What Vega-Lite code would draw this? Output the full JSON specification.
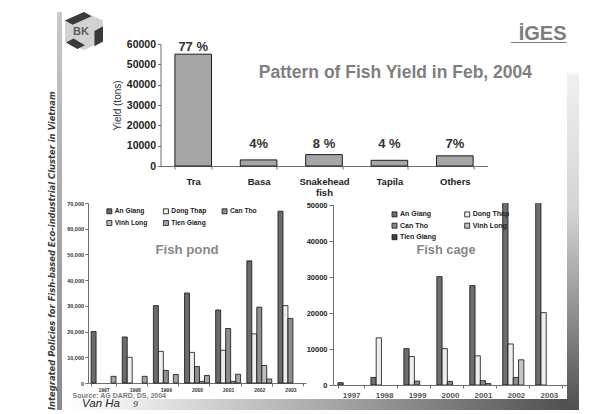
{
  "$schema": "https://vega.github.io/schema/vega-lite/v6.json",
  "background": "#ffffff",
  "padding": {"left": 47, "top": 12, "right": 0, "bottom": 0},
  "config": {
    "font": "Liberation Sans",
    "view": {"stroke": null},
    "axis": {"grid": false, "domainColor": "#6e6e6e", "tickColor": "#6e6e6e", "domainWidth": 1, "tickWidth": 1, "labelFontWeight": "bold", "labelOverlap": false},
    "legend": {"padding": 0}
  },
  "title": {
    "text": "Integrated Policies for Fish-based Eco-industrial Cluster in Vietnam",
    "orient": "left",
    "anchor": "start",
    "font": "DejaVu Sans",
    "fontSize": 8.4,
    "fontWeight": "bold",
    "fontStyle": "italic",
    "color": "#3a3a3a",
    "offset": 1
  },
  "spacing": 0,
  "hconcat": [
    {
      "spacing": 3,
      "hconcat": [
        {
          "width": 5,
          "height": 398,
          "data": {"values": [{}]},
          "mark": {"type": "rect", "fill": {"gradient": "linear", "x1": 0, "y1": 0, "x2": 0, "y2": 1, "stops": [{"offset": 0, "color": "#c9c9c9"}, {"offset": 1, "color": "#8a8a8a"}]}},
          "encoding": {}
        },
        {
          "spacing": -7,
          "vconcat": [
            {
              "spacing": 4,
              "vconcat": [
                {
                  "spacing": 8.5,
                  "hconcat": [
                    {
                      "width": 38,
                      "height": 38,
                      "data": {"values": [{"name": "BK"}]},
                      "layer": [
                        {"mark": {"type": "point", "shape": "M0,-1L1,-0.55L1,0.55L0,1L-1,0.55L-1,-0.55Z", "size": 1444, "filled": true, "fill": "#d2d2d2", "opacity": 1, "strokeWidth": 0}, "encoding": {}},
                        {"mark": {"type": "point", "shape": "M-1,-0.55L0,-1L0.4,-0.78L-0.6,-0.33Z M0.55,0L1,-0.25L1,0.55L0.55,0.8Z M-0.95,0.6L-0.55,0.4L0.05,0.75L-0.35,0.95Z", "size": 1444, "filled": true, "fill": "#3a3a3a", "opacity": 1, "strokeWidth": 0}, "encoding": {}},
                        {"mark": {"type": "text", "fontSize": 11, "fontWeight": "bold", "color": "#5a5a5a", "dx": -3, "dy": 1}, "encoding": {"text": {"field": "name"}}}
                      ]
                    },
                    {
                      "width": 327,
                      "height": 154,
                      "title": {
                        "text": "İGES\u2009",
                        "subtitle": "_____",
                        "anchor": "end",
                        "frame": "group",
                        "dx": 79,
                        "fontSize": 20,
                        "fontWeight": "bold",
                        "color": "#7d7d7d",
                        "subtitleFontSize": 20,
                        "subtitleFontWeight": "bold",
                        "subtitleColor": "#7d7d7d",
                        "subtitlePadding": -20,
                        "offset": -32
                      },
                      "data": {"values": [
                        {"fish": "Tra", "yield": 55000, "share": "77 %"},
                        {"fish": "Basa", "yield": 3000, "share": "4%"},
                        {"fish": "Snakehead fish", "yield": 5600, "share": "8 %"},
                        {"fish": "Tapila", "yield": 2800, "share": "4 %"},
                        {"fish": "Others", "yield": 5000, "share": "7%"}
                      ]},
                      "encoding": {
                        "x": {
                          "field": "fish",
                          "type": "nominal",
                          "sort": null,
                          "scale": {"domain": ["Tra", "Basa", "Snakehead fish", "Tapila", "Others"], "paddingInner": 0.44, "paddingOuter": 0.22},
                          "axis": {"title": null, "labelAngle": 0, "labelExpr": "split(datum.label, ' ')", "labelFontSize": 9.5, "labelColor": "#222222", "labelPadding": 7, "labelLineHeight": 11.5, "tickBand": "extent", "tickSize": 3}
                        }
                      },
                      "layer": [
                        {
                          "mark": {"type": "bar", "fill": "#a6a6a6", "stroke": "#1e1e1e", "strokeWidth": 1},
                          "encoding": {
                            "y": {
                              "field": "yield",
                              "type": "quantitative",
                              "scale": {"domain": [0, 60000], "range": [154, 32]},
                              "axis": {"title": "Yield (tons)", "titleFontWeight": "normal", "titleFontSize": 10, "titleColor": "#333333", "titlePadding": 4, "values": [0, 10000, 20000, 30000, 40000, 50000, 60000], "tickCount": 12, "labelOverlap": false, "format": "d", "labelFontSize": 10.5, "labelColor": "#222222", "tickSize": 3, "labelPadding": 2}
                            }
                          }
                        },
                        {
                          "transform": [{"filter": "datum.yield > 20000"}],
                          "mark": {"type": "text", "fontSize": 13, "fontWeight": "bold", "color": "#333333", "baseline": "alphabetic", "dy": -3},
                          "encoding": {"y": {"field": "yield", "type": "quantitative"}, "text": {"field": "share"}}
                        },
                        {
                          "transform": [{"filter": "datum.yield < 20000"}],
                          "mark": {"type": "text", "fontSize": 13, "fontWeight": "bold", "color": "#333333", "baseline": "middle"},
                          "encoding": {"y": {"datum": 10800, "type": "quantitative"}, "text": {"field": "share"}}
                        },
                        {
                          "data": {"values": [{"caption": "Pattern of Fish Yield in Feb, 2004"}]},
                          "mark": {"type": "text", "fontSize": 17.5, "fontWeight": "bold", "color": "#7f7f7f", "baseline": "middle", "dx": 6},
                          "encoding": {"x": {"datum": "Tapila"}, "y": {"datum": 45700, "type": "quantitative"}, "text": {"field": "caption"}}
                        }
                      ]
                    }
                  ]
                },
                {
                  "spacing": 0,
                  "resolve": {"scale": {"color": "independent", "xOffset": "independent"}, "legend": {"color": "independent"}},
                  "hconcat": [
                    {
                      "width": 241,
                      "height": 180,
                      "data": {"values": [
                        {"year": "1997", "province": "An Giang", "tons": 20000},
                        {"year": "1997", "province": "Tien Giang", "tons": 2600},
                        {"year": "1998", "province": "An Giang", "tons": 17900},
                        {"year": "1998", "province": "Dong Thap", "tons": 10000},
                        {"year": "1998", "province": "Tien Giang", "tons": 2600},
                        {"year": "1999", "province": "An Giang", "tons": 30100},
                        {"year": "1999", "province": "Dong Thap", "tons": 12300},
                        {"year": "1999", "province": "Can Tho", "tons": 4900},
                        {"year": "1999", "province": "Tien Giang", "tons": 3300},
                        {"year": "2000", "province": "An Giang", "tons": 35000},
                        {"year": "2000", "province": "Dong Thap", "tons": 11900},
                        {"year": "2000", "province": "Can Tho", "tons": 6400},
                        {"year": "2000", "province": "Vinh Long", "tons": 650},
                        {"year": "2000", "province": "Tien Giang", "tons": 2950},
                        {"year": "2001", "province": "An Giang", "tons": 28400},
                        {"year": "2001", "province": "Dong Thap", "tons": 12700},
                        {"year": "2001", "province": "Can Tho", "tons": 21200},
                        {"year": "2001", "province": "Vinh Long", "tons": 650},
                        {"year": "2001", "province": "Tien Giang", "tons": 3400},
                        {"year": "2002", "province": "An Giang", "tons": 47500},
                        {"year": "2002", "province": "Dong Thap", "tons": 19100},
                        {"year": "2002", "province": "Can Tho", "tons": 29500},
                        {"year": "2002", "province": "Vinh Long", "tons": 6800},
                        {"year": "2002", "province": "Tien Giang", "tons": 1550},
                        {"year": "2003", "province": "An Giang", "tons": 66800},
                        {"year": "2003", "province": "Dong Thap", "tons": 30100},
                        {"year": "2003", "province": "Can Tho", "tons": 25100}
                      ]},
                      "layer": [
                        {
                          "mark": {"type": "bar", "stroke": "#111111", "strokeWidth": 0.8},
                          "encoding": {
                            "x": {
                              "field": "year",
                              "type": "nominal",
                              "scale": {"range": [23, 241], "paddingInner": 0.2, "paddingOuter": 0.1},
                              "axis": {"title": "Source: AG DARD, DS, 2004", "titleAlign": "left", "titleBaseline": "middle", "titleX": 7, "titleY": 12, "titleFontSize": 7, "titleFontWeight": "bold", "titleColor": "#7a7a7a", "labelFontSize": 5, "labelAngle": 0, "labelPadding": 1.5, "labelColor": "#333333", "tickBand": "extent", "tickSize": 3}
                            },
                            "xOffset": {"field": "province", "type": "nominal", "scale": {"domain": ["An Giang", "Dong Thap", "Can Tho", "Vinh Long", "Tien Giang"]}},
                            "y": {
                              "field": "tons",
                              "type": "quantitative",
                              "scale": {"domain": [0, 70000]},
                              "axis": {"title": null, "offset": -23, "values": [0, 10000, 20000, 30000, 40000, 50000, 60000, 70000], "tickCount": 12, "labelOverlap": false, "format": ",d", "labelFontSize": 5.5, "labelColor": "#333333", "tickSize": 3, "labelPadding": 1.5}
                            },
                            "color": {
                              "field": "province",
                              "type": "nominal",
                              "scale": {"domain": ["An Giang", "Dong Thap", "Can Tho", "Vinh Long", "Tien Giang"], "range": ["#6b6b6b", "#eeeeee", "#8e8e8e", "#bcbcbc", "#a5a5a5"]},
                              "legend": {"orient": "none", "legendX": 41, "legendY": 4.7, "direction": "horizontal", "columns": 3, "title": null, "symbolType": "square", "symbolSize": 25, "symbolStrokeColor": "#111111", "symbolStrokeWidth": 0.8, "symbolOpacity": 1, "labelFontSize": 6.7, "labelFontWeight": "bold", "labelColor": "#222222", "labelOffset": 2, "columnPadding": 13.6, "rowPadding": 3}
                            }
                          }
                        },
                        {
                          "data": {"values": [{"caption": "Fish pond"}]},
                          "mark": {"type": "text", "fontSize": 13.2, "fontWeight": "bold", "color": "#888888", "baseline": "middle", "dx": -10},
                          "encoding": {"x": {"datum": "2000"}, "y": {"datum": 51700, "type": "quantitative"}, "text": {"field": "caption"}}
                        }
                      ]
                    },
                    {
                      "width": 234,
                      "height": 182,
                      "data": {"values": [
                        {"year": "1997", "province": "An Giang", "tons": 650},
                        {"year": "1998", "province": "An Giang", "tons": 2100},
                        {"year": "1998", "province": "Dong Thap", "tons": 13100},
                        {"year": "1999", "province": "An Giang", "tons": 10100},
                        {"year": "1999", "province": "Dong Thap", "tons": 7900},
                        {"year": "1999", "province": "Can Tho", "tons": 1100},
                        {"year": "2000", "province": "An Giang", "tons": 30100},
                        {"year": "2000", "province": "Dong Thap", "tons": 10100},
                        {"year": "2000", "province": "Can Tho", "tons": 1000},
                        {"year": "2001", "province": "An Giang", "tons": 27600},
                        {"year": "2001", "province": "Dong Thap", "tons": 8100},
                        {"year": "2001", "province": "Can Tho", "tons": 1200},
                        {"year": "2001", "province": "Vinh Long", "tons": 400},
                        {"year": "2002", "province": "An Giang", "tons": 62000},
                        {"year": "2002", "province": "Dong Thap", "tons": 11400},
                        {"year": "2002", "province": "Can Tho", "tons": 2100},
                        {"year": "2002", "province": "Vinh Long", "tons": 7000},
                        {"year": "2003", "province": "An Giang", "tons": 80000},
                        {"year": "2003", "province": "Dong Thap", "tons": 20100}
                      ]},
                      "layer": [
                        {
                          "mark": {"type": "bar", "stroke": "#111111", "strokeWidth": 0.8, "clip": true},
                          "encoding": {
                            "x": {
                              "field": "year",
                              "type": "nominal",
                              "scale": {"paddingInner": 0.2, "paddingOuter": 0.15},
                              "axis": {"title": null, "labelFontSize": 8, "labelAngle": 0, "labelPadding": 3, "labelColor": "#555555", "tickBand": "extent", "tickSize": 3}
                            },
                            "xOffset": {"field": "province", "type": "nominal", "scale": {"domain": ["An Giang", "Dong Thap", "Can Tho", "Vinh Long", "Tien Giang"]}},
                            "y": {
                              "field": "tons",
                              "type": "quantitative",
                              "scale": {"domain": [0, 50000], "range": [182, 2]},
                              "axis": {"title": null, "values": [0, 10000, 20000, 30000, 40000, 50000], "tickCount": 12, "labelOverlap": false, "format": "d", "labelFontSize": 7.5, "labelColor": "#222222", "tickSize": 4, "labelPadding": 2}
                            },
                            "color": {
                              "field": "province",
                              "type": "nominal",
                              "scale": {"domain": ["An Giang", "Dong Thap", "Can Tho", "Vinh Long", "Tien Giang"], "range": ["#6e6e6e", "#eeeeee", "#8a8a8a", "#c4c4c4", "#3f3f3f"]},
                              "legend": {"orient": "none", "legendX": 58, "legendY": 7.7, "direction": "horizontal", "columns": 2, "title": null, "symbolType": "square", "symbolSize": 25, "symbolStrokeColor": "#111111", "symbolStrokeWidth": 0.8, "symbolOpacity": 1, "labelFontSize": 7, "labelFontWeight": "bold", "labelColor": "#222222", "labelOffset": 2, "columnPadding": 25.7, "rowPadding": 2.5}
                            }
                          }
                        },
                        {
                          "data": {"values": [{"caption": "Fish cage"}]},
                          "mark": {"type": "text", "fontSize": 12.8, "fontWeight": "bold", "color": "#888888", "baseline": "middle", "dx": -4},
                          "encoding": {"x": {"datum": "2000"}, "y": {"datum": 37500, "type": "quantitative"}, "text": {"field": "caption"}}
                        }
                      ]
                    }
                  ]
                }
              ]
            },
            {
              "width": 502,
              "height": 11,
              "data": {"values": [{"author": "Van Ha", "page": "9"}]},
              "layer": [
                {
                  "mark": {"type": "rect", "fill": {"gradient": "linear", "x1": 0, "y1": 0, "x2": 1, "y2": 0, "stops": [{"offset": 0, "color": "#ffffff"}, {"offset": 0.1, "color": "#f2f2f2"}, {"offset": 0.5, "color": "#acacac"}, {"offset": 1, "color": "#505050"}]}},
                  "encoding": {
                    "x": {"datum": 0, "type": "quantitative", "scale": {"domain": [0, 1]}, "axis": null},
                    "x2": {"datum": 1},
                    "y": {"datum": 0, "type": "quantitative", "scale": {"domain": [0, 1]}, "axis": null},
                    "y2": {"datum": 1}
                  }
                },
                {
                  "mark": {"type": "text", "align": "left", "baseline": "middle", "fontSize": 11.5, "fontStyle": "italic", "color": "#222222"},
                  "encoding": {"x": {"datum": 0.034, "type": "quantitative"}, "y": {"datum": 0.55, "type": "quantitative"}, "text": {"field": "author"}}
                },
                {
                  "mark": {"type": "text", "align": "left", "baseline": "middle", "fontSize": 9, "fontStyle": "italic", "font": "Liberation Serif", "color": "#222222"},
                  "encoding": {"x": {"datum": 0.136, "type": "quantitative"}, "y": {"datum": 0.55, "type": "quantitative"}, "text": {"field": "page"}}
                }
              ]
            }
          ]
        }
      ]
    },
    {
      "width": 12,
      "height": 398,
      "data": {"values": [{}]},
      "mark": {"type": "rect", "fill": {"gradient": "linear", "x1": 0, "y1": 0, "x2": 0, "y2": 1, "stops": [{"offset": 0, "color": "#ffffff"}, {"offset": 0.15, "color": "#ffffff"}, {"offset": 0.16, "color": "#f0f0f0"}, {"offset": 0.5, "color": "#d4d4d4"}, {"offset": 1, "color": "#4f4f4f"}]}},
      "encoding": {}
    }
  ]
}
